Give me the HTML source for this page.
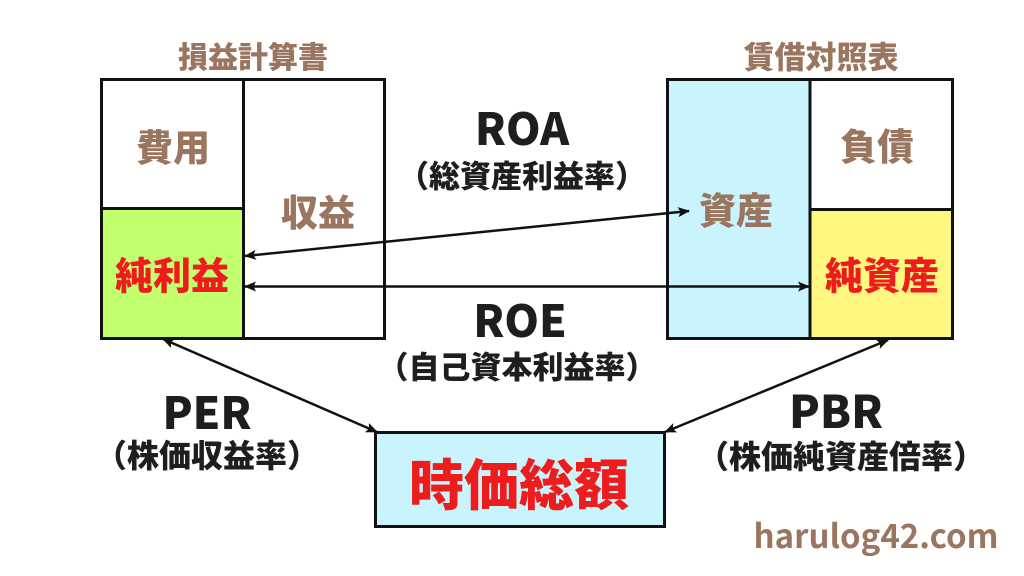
<!DOCTYPE html>
<html><head><meta charset="utf-8"><style>
html,body{margin:0;padding:0;background:#fff;}
svg{display:block;}
text{font-family:"Noto Sans CJK JP","Liberation Sans",sans-serif;font-weight:900;}
</style></head><body>
<svg width="1024" height="576" viewBox="0 0 1024 576" xmlns="http://www.w3.org/2000/svg">
<defs>
<marker id="ah" markerUnits="userSpaceOnUse" markerWidth="12" markerHeight="12" viewBox="0 0 12 12" refX="11" refY="6" orient="auto-start-reverse">
<path d="M0,1 L12,6 L0,11 L2.5,6 Z" fill="#111"/>
</marker>
</defs>
<rect width="1024" height="576" fill="#fff"/>

<!-- Left table -->
<rect x="101.5" y="208.5" width="142" height="130" fill="#c1ff6f"/>
<rect x="101.5" y="79.5" width="283" height="259" fill="none" stroke="#111" stroke-width="3"/>
<line x1="243.5" y1="79" x2="243.5" y2="339" stroke="#111" stroke-width="3"/>
<line x1="101" y1="208.5" x2="244" y2="208.5" stroke="#111" stroke-width="3"/>

<!-- Right table -->
<rect x="667.5" y="79.5" width="142" height="259" fill="#c9f3fd"/>
<rect x="810" y="209.5" width="143" height="129" fill="#fff77f"/>
<rect x="667.5" y="79.5" width="285" height="259" fill="none" stroke="#111" stroke-width="3"/>
<line x1="810" y1="79" x2="810" y2="339" stroke="#111" stroke-width="3"/>
<line x1="810" y1="209.5" x2="953" y2="209.5" stroke="#111" stroke-width="3"/>

<!-- Bottom box -->
<rect x="375.5" y="432.5" width="289" height="94" fill="#c9f3fd" stroke="#111" stroke-width="3"/>

<!-- Arrows -->
<line x1="245" y1="256" x2="689" y2="211" stroke="#111" stroke-width="2.5" marker-start="url(#ah)" marker-end="url(#ah)"/>
<line x1="245" y1="286.5" x2="809" y2="286.5" stroke="#111" stroke-width="2.5" marker-start="url(#ah)" marker-end="url(#ah)"/>
<line x1="163" y1="339" x2="377" y2="432" stroke="#111" stroke-width="2.5" marker-start="url(#ah)" marker-end="url(#ah)"/>
<line x1="888" y1="340" x2="665" y2="432" stroke="#111" stroke-width="2.5" marker-start="url(#ah)" marker-end="url(#ah)"/>

<!-- Titles -->
<text x="253" y="55" font-size="30" fill="#9a7660" text-anchor="middle" dominant-baseline="central">損益計算書</text>
<text x="821" y="55" font-size="31" fill="#9a7660" text-anchor="middle" dominant-baseline="central">賃借対照表</text>

<!-- Cells -->
<text x="173" y="145" font-size="37" fill="#9a7660" text-anchor="middle" dominant-baseline="central">費用</text>
<text x="318" y="210" font-size="37" fill="#9a7660" text-anchor="middle" dominant-baseline="central">収益</text>
<text x="172" y="273" font-size="38" fill="#ee1c1c" text-anchor="middle" dominant-baseline="central">純利益</text>
<text x="877" y="144" font-size="37" fill="#9a7660" text-anchor="middle" dominant-baseline="central">負債</text>
<text x="736" y="208" font-size="37" fill="#9a7660" text-anchor="middle" dominant-baseline="central">資産</text>
<text x="882" y="273" font-size="38" fill="#ee1c1c" text-anchor="middle" dominant-baseline="central">純資産</text>
<text x="519" y="481" font-size="55" fill="#ee1c1c" text-anchor="middle" dominant-baseline="central">時価総額</text>

<!-- Ratio labels -->
<text x="522" y="145" font-size="44" fill="#1e1e1e" text-anchor="middle">ROA</text>
<text x="522" y="174" font-size="31" fill="#1e1e1e" text-anchor="middle" dominant-baseline="central">（総資産利益率）</text>
<text x="520" y="337" font-size="44" fill="#1e1e1e" text-anchor="middle">ROE</text>
<text x="517" y="365" font-size="31" fill="#1e1e1e" text-anchor="middle" dominant-baseline="central">（自己資本利益率）</text>
<text x="207" y="429" font-size="44" fill="#1e1e1e" text-anchor="middle">PER</text>
<text x="207" y="454" font-size="32" fill="#1e1e1e" text-anchor="middle" dominant-baseline="central">（株価収益率）</text>
<text x="836" y="428" font-size="45" fill="#1e1e1e" text-anchor="middle">PBR</text>
<text x="841" y="455" font-size="32" fill="#1e1e1e" text-anchor="middle" dominant-baseline="central">（株価純資産倍率）</text>

<text x="876" y="548" font-size="33" fill="#9a7660" text-anchor="middle" style="font-weight:bold">harulog42.com</text>
</svg>
</body></html>
